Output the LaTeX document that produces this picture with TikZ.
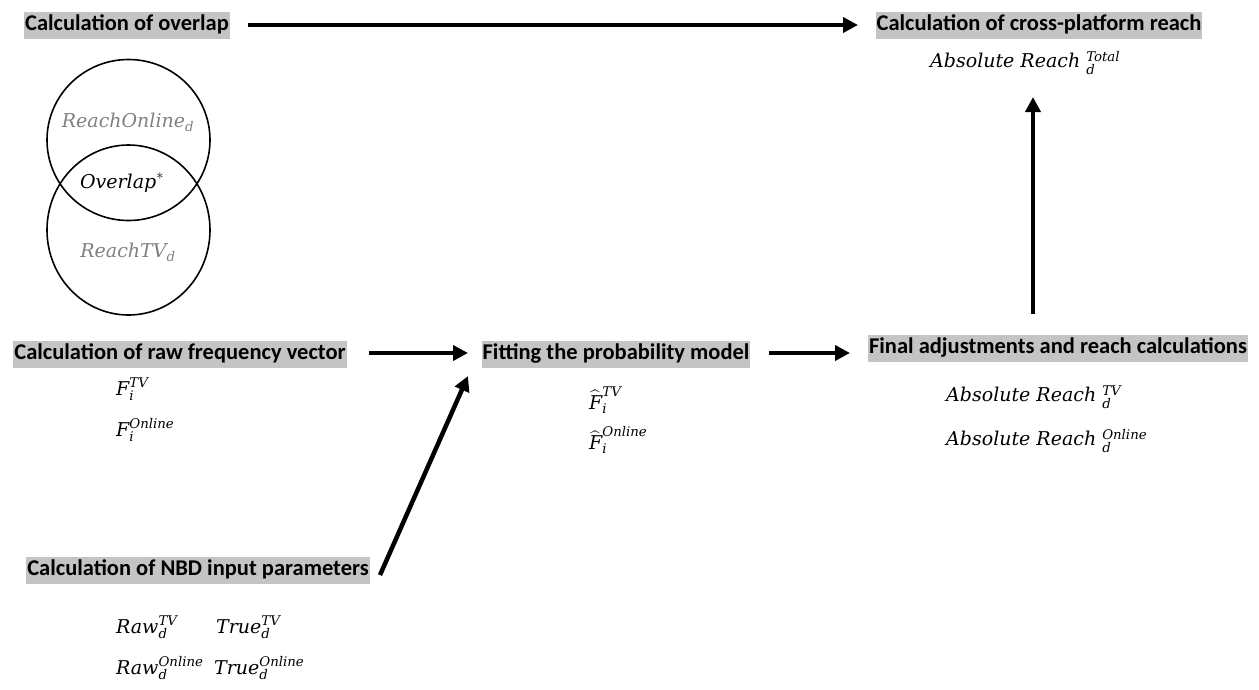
\documentclass[tikz,border=0pt]{standalone}
\usepackage{amsmath}
\usepackage[no-math]{fontspec}
\setmainfont{Carlito}
\newfontfamily\dvs{DejaVu Serif}
\newcommand{\mt}[1]{\text{\dvs\itshape #1}}
\usetikzlibrary{arrows.meta}
\definecolor{boxgray}{RGB}{196,196,196}
\definecolor{txtgray}{RGB}{128,128,128}
\tikzset{
  title/.style={fill=boxgray, font=\bfseries\fontsize{22.5}{26}\selectfont, inner xsep=1pt, inner ysep=0pt,
    text height=16pt, text depth=5pt, minimum height=27pt},
  mlbl/.style={font=\fontsize{19}{23}\selectfont, inner sep=0pt, anchor=west},
  vlbl/.style={font=\fontsize{19}{23}\selectfont, inner sep=0pt},
  flow/.style={line width=4.5pt, -{Triangle[length=15pt,width=15pt]}},
  venn/.style={line width=1.6pt}
}
\begin{document}
\begin{tikzpicture}[x=1pt,y=-1pt]
\useasboundingbox (0,0) rectangle (1259,689);

% titles
\node[title] (ov)  at (127,25)  {Calculation of overlap};
\node[title] (cp)  at (1039,25) {Calculation of cross-platform reach};
\node[title] (raw) at (180,354) {Calculation of raw frequency vector};
\node[title] (fit) at (616,354) {Fitting the probability model};
\node[title] (fin) at (1058,348) {Final adjustments and reach calculations};
\node[title] (nbd) at (198,570) {Calculation of NBD input parameters};

% venn
\draw[venn] (128.5,140) ellipse [x radius=81.5, y radius=80.5];
\draw[venn] (128.5,230) ellipse [x radius=81.5, y radius=85];
\node[vlbl, text=txtgray] (ro) at (128,122) {$\mt{ReachOnline}_{\mt{d}}$};
\node[vlbl] (olap) at (122,183) {$\mt{Overlap}^{*}$};
\node[vlbl, text=txtgray] (rtv) at (128,252) {$\mt{ReachTV}_{\mt{d}}$};

% labels
\node[mlbl] (tot) at (930,63) {$\mt{Absolute Reach}\hspace{6pt}{}^{\mt{Total}}_{\mt{d}}$};
\node[mlbl] (ftv) at (116,389) {$\mt{F}_{\mt{i}}^{\mt{TV}}$};
\node[mlbl] (fon) at (116,430) {$\mt{F}_{\mt{i}}^{\mt{Online}}$};
\node[mlbl] (htv) at (589,400) {$\widehat{\mt{F}}_{\mt{i}}^{\mt{TV}}$};
\node[mlbl] (hon) at (589,440) {$\widehat{\mt{F}}_{\mt{i}}^{\mt{Online}}$};
\node[mlbl] (atv) at (946,397) {$\mt{Absolute Reach}\hspace{6pt}{}^{\mt{TV}}_{\mt{d}}$};
\node[mlbl] (aon) at (946,441) {$\mt{Absolute Reach}\hspace{6pt}{}^{\mt{Online}}_{\mt{d}}$};
\node[mlbl] (rwtv) at (116,627) {$\mt{Raw}_{\mt{d}}^{\mt{TV}}$};
\node[mlbl] (trtv) at (216,627) {$\mt{True}_{\mt{d}}^{\mt{TV}}$};
\node[mlbl] (rwon) at (116,668) {$\mt{Raw}_{\mt{d}}^{\mt{Online}}$};
\node[mlbl] (tron) at (214,668) {$\mt{True}_{\mt{d}}^{\mt{Online}}$};

% connector end points
\coordinate (a1s) at (248,25);   \coordinate (a1e) at (858,25);
\coordinate (a2s) at (369,353);  \coordinate (a2e) at (468,353);
\coordinate (a3s) at (769,353);  \coordinate (a3e) at (850,353);
\coordinate (a4s) at (1033,314); \coordinate (a4e) at (1033,97);
\coordinate (a5s) at (380,575);  \coordinate (a5e) at (468,376);

% connectors
\draw[flow] (a1s) -- (a1e);
\draw[flow] (a2s) -- (a2e);
\draw[flow] (a3s) -- (a3e);
\draw[flow] (a4s) -- (a4e);
\draw[flow] (a5s) -- (a5e);
\end{tikzpicture}
\end{document}
